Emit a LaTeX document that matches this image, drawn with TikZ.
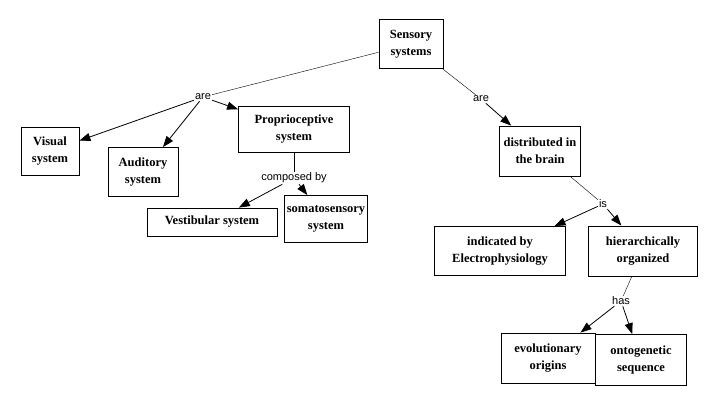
\documentclass[tikz,border=0pt]{standalone}
\usepackage{fontspec}
\setmainfont{Liberation Serif}
\setsansfont{Liberation Sans}
\usetikzlibrary{arrows.meta}
\begin{document}
\begin{tikzpicture}[x=1pt,y=-1pt,
    concept/.style 2 args={draw, thick, fill=white, align=center, inner sep=2pt,
        minimum width=#1, minimum height=#2, font=\fontsize{12.5}{17}\selectfont\bfseries},
    link/.style={font=\sffamily\fontsize{11}{13}\selectfont, fill=white, inner sep=1pt},
    arr/.style={-{Triangle[length=11pt,width=8pt]}, thick}
]
\useasboundingbox (0,0) rectangle (712,407);
\node[concept={64pt}{49pt}] (sensory) at (411,44) {Sensory\\systems};
\node[concept={58pt}{48pt}] (visual) at (50,151) {Visual\\system};
\node[concept={70pt}{49pt}] (auditory) at (143,172) {Auditory\\system};
\node[concept={111pt}{46pt}] (proprio) at (294,129) {Proprioceptive\\system};
\node[concept={130pt}{28pt}] (vestib) at (212,222) {Vestibular system};
\node[concept={82pt}{47pt}] (somato) at (326,219) {somatosensory\\system};
\node[concept={81pt}{50pt}] (distrib) at (540,151) {distributed in\\the brain};
\node[concept={131pt}{49pt}] (electro) at (500,251) {indicated by\\Electrophysiology};
\node[concept={109pt}{50pt}] (hier) at (643,251) {hierarchically\\organized};
\node[concept={94pt}{50pt}] (evol) at (548,358) {evolutionary\\origins};
\node[concept={91pt}{51pt}] (onto) at (641,360) {ontogenetic\\sequence};
% linking phrases
\node[link] (are1) at (203,97) {are};
\node[link] (are2) at (481,99) {are};
\node[link] (compby) at (294,178) {composed by};
\node[link] (is) at (603,204) {is};
\node[link] (has) at (621,301) {has};
% connectors
\draw (sensory) -- (are1);
\draw[arr] (are1) -- (visual);
\draw[arr] (are1) -- (auditory);
\draw[arr] (are1) -- (proprio);
\draw (sensory) -- (are2);
\draw[arr] (are2) -- (distrib);
\draw (proprio) -- (compby);
\draw[arr] (compby) -- (vestib);
\draw[arr] (compby) -- (somato);
\draw (distrib) -- (is);
\draw[arr] (is) -- (electro);
\draw[arr] (is) -- (hier);
\draw (hier) -- (has);
\draw[arr] (has) -- (evol);
\draw[arr] (has) -- (onto);
\end{tikzpicture}
\end{document}
